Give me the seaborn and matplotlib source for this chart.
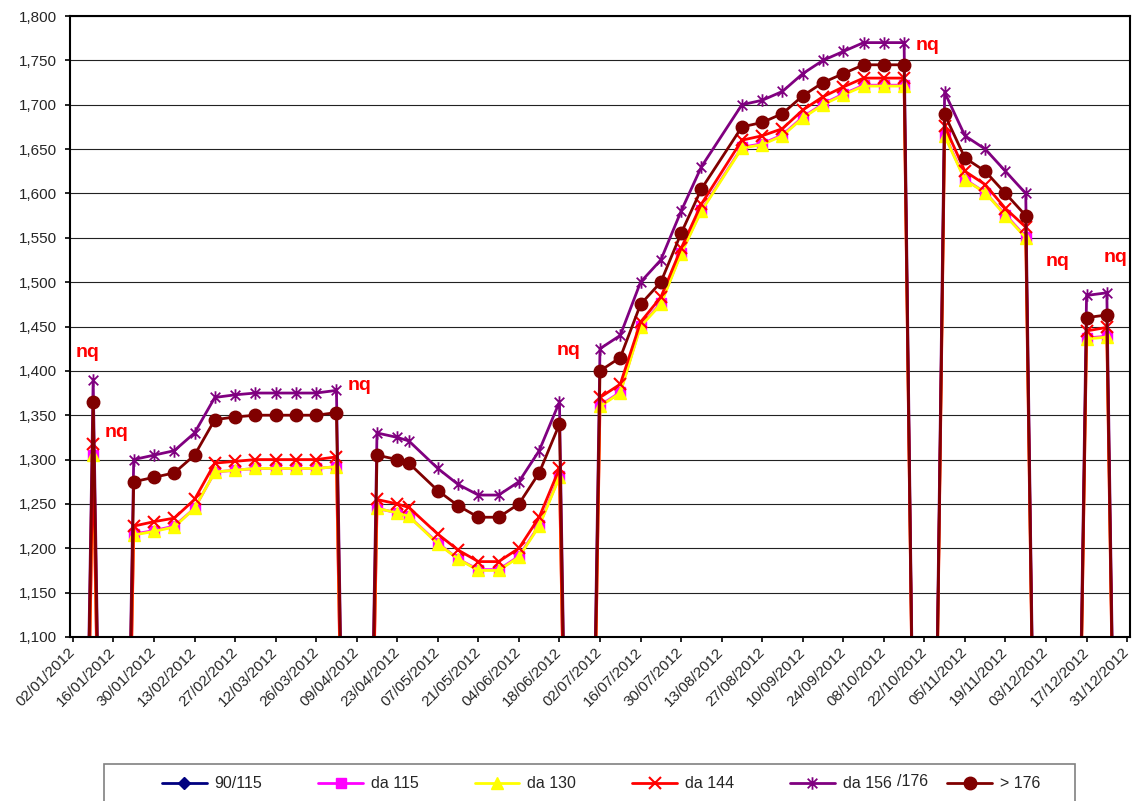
import pandas as pd
import numpy as np
import seaborn as sns
import matplotlib.pyplot as plt
import matplotlib.dates as mdates
from matplotlib.ticker import FuncFormatter, MultipleLocator
from matplotlib.patches import Rectangle
from matplotlib.path import Path

# weekly quotations 2012, 0 = not quoted ("nq")
dates = ['2012-01-02', '2012-01-09', '2012-01-16', '2012-01-23', '2012-01-30',
         '2012-02-06', '2012-02-13', '2012-02-20', '2012-02-27', '2012-03-05',
         '2012-03-12', '2012-03-19', '2012-03-26', '2012-04-02', '2012-04-09',
         '2012-04-16', '2012-04-23', '2012-04-27', '2012-05-07', '2012-05-14',
         '2012-05-21', '2012-05-28', '2012-06-04', '2012-06-11', '2012-06-18',
         '2012-06-25', '2012-07-02', '2012-07-09', '2012-07-16', '2012-07-23',
         '2012-07-30', '2012-08-06', '2012-08-20', '2012-08-27', '2012-09-03',
         '2012-09-10', '2012-09-17', '2012-09-24', '2012-10-01', '2012-10-08',
         '2012-10-15', '2012-10-22', '2012-10-29', '2012-11-05', '2012-11-12',
         '2012-11-19', '2012-11-26', '2012-12-03', '2012-12-10', '2012-12-17',
         '2012-12-24', '2012-12-31']

p90_115 = [0] * 52

da115 = [0, 1305, 0, 1216, 1220, 1225, 1245, 1286, 1288, 1290,
         1290, 1290, 1290, 1292, 0, 1245, 1240, 1236, 1206, 1188,
         1176, 1176, 1191, 1226, 1281, 0, 1361, 1376, 1451, 1476,
         1533, 1581, 1652, 1656, 1666, 1686, 1701, 1712, 1722, 1722,
         1722, 0, 1666, 1616, 1601, 1576, 1551, 0, 0, 1437,
         1439, 0]

da130 = [0, 1305, 0, 1215, 1219, 1224, 1245, 1286, 1288, 1290,
         1290, 1290, 1290, 1292, 0, 1245, 1240, 1236, 1205, 1188,
         1175, 1175, 1190, 1225, 1280, 0, 1360, 1375, 1450, 1475,
         1532, 1580, 1651, 1655, 1665, 1685, 1700, 1711, 1721, 1721,
         1721, 0, 1665, 1615, 1601, 1575, 1550, 0, 0, 1436,
         1438, 0]

da144 = [0, 1317, 0, 1225, 1230, 1234, 1255, 1296, 1298, 1300,
         1300, 1300, 1300, 1303, 0, 1255, 1250, 1246, 1216, 1198,
         1185, 1185, 1200, 1235, 1290, 0, 1370, 1385, 1455, 1483,
         1538, 1588, 1660, 1665, 1673, 1694, 1709, 1720, 1730, 1730,
         1730, 0, 1676, 1625, 1610, 1583, 1562, 0, 0, 1445,
         1449, 0]

da156 = [0, 1390, 0, 1300, 1305, 1310, 1330, 1370, 1373, 1375,
         1375, 1375, 1375, 1378, 0, 1330, 1325, 1321, 1290, 1272,
         1260, 1260, 1275, 1310, 1365, 0, 1425, 1440, 1500, 1525,
         1580, 1630, 1700, 1705, 1715, 1735, 1750, 1760, 1770, 1770,
         1770, 0, 1714, 1665, 1650, 1625, 1600, 0, 0, 1485,
         1488, 0]

over176 = [0, 1365, 0, 1275, 1280, 1285, 1305, 1345, 1348, 1350,
           1350, 1350, 1350, 1353, 0, 1305, 1300, 1296, 1265, 1248,
           1235, 1235, 1250, 1285, 1340, 0, 1400, 1415, 1475, 1500,
           1555, 1605, 1675, 1680, 1690, 1710, 1725, 1735, 1745, 1745,
           1745, 0, 1689, 1640, 1625, 1600, 1575, 0, 0, 1460,
           1463, 0]

labels = ['90/115', 'da 115', 'da 130', 'da 144', 'da 156', '> 176']

df = pd.DataFrame({'date': pd.to_datetime(dates),
                   '90/115': p90_115, 'da 115': da115, 'da 130': da130,
                   'da 144': da144, 'da 156': da156, '> 176': over176})

sns.set_style("white")
plt.rcParams['font.family'] = ['Liberation Sans', 'DejaVu Sans']

fig = plt.figure(figsize=(11.36, 8.01), dpi=100)
ax = fig.add_axes([70 / 1136, 1 - 637 / 801, 1060 / 1136, 621 / 801])

# Excel style asterisk: an x with a vertical bar
asterisk = Path([(-1, -1), (1, 1), (-1, 1), (1, -1), (0, -1.3), (0, 1.3)],
                [Path.MOVETO, Path.LINETO, Path.MOVETO, Path.LINETO,
                 Path.MOVETO, Path.LINETO])

# series styles, Excel-like
styles = {
    '90/115': dict(color='#000080', marker='D', ms=6),
    'da 115': dict(color='#FF00FF', marker='s', ms=7),
    'da 130': dict(color='#FFFF00', marker='^', ms=8),
    'da 144': dict(color='#FF0000', marker='x', ms=8, mew=1.5),
    'da 156': dict(color='#800080', marker=asterisk, ms=9, mew=1.3),
    '> 176': dict(color='#800000', marker='o', ms=9),
}

for name in labels:
    st = styles[name]
    sns.lineplot(data=df, x='date', y=name, ax=ax, label=name,
                 color=st['color'], marker=st['marker'], markersize=st['ms'],
                 markeredgecolor=st['color'], markeredgewidth=st.get('mew', 1),
                 linewidth=2, sort=False, estimator=None)

ax.set_ylim(1100, 1800)
ax.set_xlim(pd.Timestamp('2012-01-01'), pd.Timestamp('2013-01-01'))
ax.yaxis.set_major_locator(MultipleLocator(50))
ax.yaxis.set_major_formatter(FuncFormatter(lambda v, p: f"{v:,.0f}"))
ax.set_xticks(pd.date_range('2012-01-02', '2012-12-31', freq='14D'))
ax.xaxis.set_major_formatter(mdates.DateFormatter('%d/%m/%Y'))
ax.yaxis.grid(True, color='#222222', linewidth=0.8)
ax.set_axisbelow(True)
ax.set_xlabel('')
ax.set_ylabel('')

for s in ax.spines.values():
    s.set_color('black')
    s.set_linewidth(1.5)

ax.tick_params(axis='both', which='major', direction='out', length=3.5,
               width=1.2, color='black', labelsize=11, left=True, bottom=True)
ax.tick_params(axis='y', pad=6)
ax.tick_params(axis='x', pad=6)
plt.setp(ax.get_xticklabels(), rotation=45, ha='right', va='center',
         rotation_mode='anchor')

# "nq" notes
notes = [('2012-01-07', 1416), ('2012-01-17', 1325), ('2012-04-10', 1378),
         ('2012-06-21', 1418), ('2012-10-23', 1762), ('2012-12-07', 1518),
         ('2012-12-27', 1523)]
for d, v in notes:
    ax.text(pd.Timestamp(d), v, 'nq', color='#FF0000', fontsize=14,
            fontweight='bold', ha='center', va='baseline')

# legend
handles, lbls = ax.get_legend_handles_labels()
ax.get_legend().remove()
fig.patches.append(Rectangle((104 / 1136, -0.01), 971 / 1136, (801 - 764) / 801 + 0.01,
                             transform=fig.transFigure, fill=False,
                             edgecolor='#808080', linewidth=1.2))
fig.legend(handles, lbls, loc='center left',
           bbox_to_anchor=(162 / 1136, 1 - 784 / 801), ncol=6, frameon=False,
           fontsize=11.5, handlelength=2.8, handletextpad=0.5,
           columnspacing=3.5, borderpad=0, borderaxespad=0)
fig.text(897 / 1136, 1 - 781 / 801, '/176', fontsize=11.5, va='center')

fig.savefig('out.png', dpi=100)
